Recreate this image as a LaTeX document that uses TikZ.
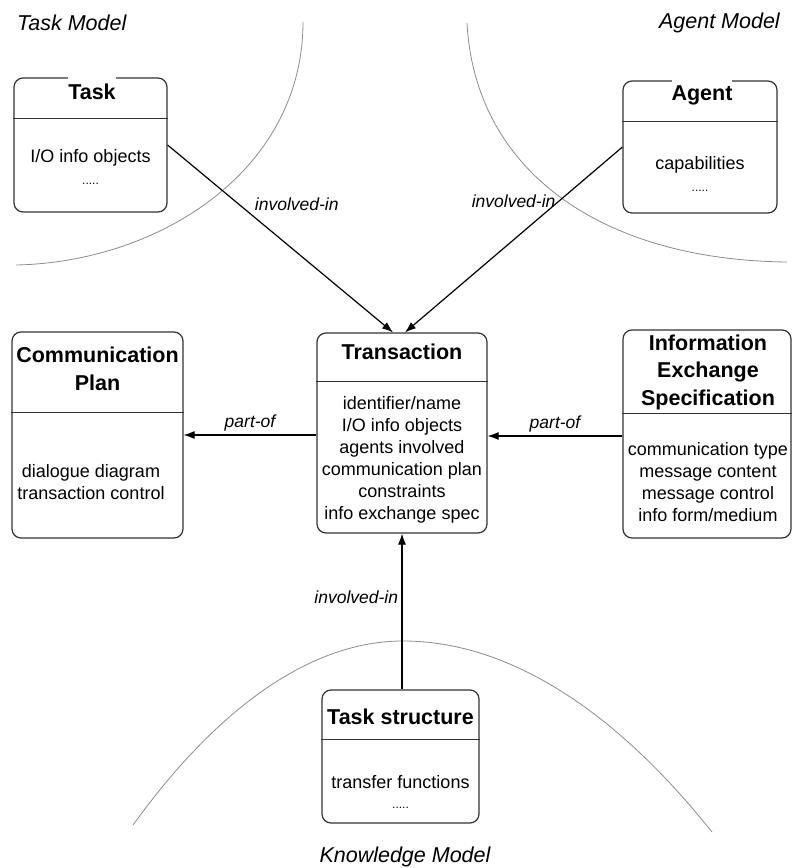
\documentclass[tikz,border=0pt]{standalone}
\usepackage{fontspec}
\setmainfont{Liberation Sans}
\usetikzlibrary{arrows.meta}

\begin{document}
\begin{tikzpicture}[x=1pt,y=-1pt]
	\tikzset{umlbox/.style = {shape=rectangle,draw=black!80,line width=1.2pt,rounded corners=9pt}}
	\tikzset{headline/.style = {draw=black!80,line width=1.2pt}}
	\tikzset{title/.style = {font=\fontsize{21.5}{27.5}\selectfont\bfseries,align=center,inner sep=0pt}}
	\tikzset{gaptitle/.style = {title,fill=white,minimum height=32pt}}
	\tikzset{body/.style = {font=\fontsize{18}{22}\selectfont,align=center,inner sep=0pt}}
	\tikzset{dots/.style = {font=\fontsize{12}{14}\selectfont,inner sep=0pt}}
	\tikzset{model/.style = {font=\fontsize{21.5}{26}\selectfont\itshape,inner sep=0pt}}
	\tikzset{lbl/.style = {font=\fontsize{17.5}{21}\selectfont\itshape}}
	\tikzset{edge/.style = {->,> = {Latex[length=11pt,width=8pt]},line width=1.2pt}}
	\tikzset{border/.style = {draw=black!45,line width=0.8pt}}
	\useasboundingbox (0,0) rectangle (792,868);

	% model borders
	\draw[border] (303,22) .. controls (303,170) and (160,262) .. (16,265);
	\draw[border] (467,23) .. controls (475,170) and (600,260) .. (787,262);
	\draw[border] (133,825) parabola bend (403,641) (712,832);
	\node[model,anchor=west] (taskmodel) at (17,23) {Task Model};
	\node[model,anchor=east] (agentmodel) at (780,23) {Agent Model};
	\node[model] (knowmodel) at (405,857) {Knowledge Model};

	% boxes
	\node[umlbox,minimum width=153pt,minimum height=134pt] (task) at (90.5,145) {};
	\draw[headline] ([yshift=-41pt]task.north west) -- ([yshift=-41pt]task.north east);
	\node[gaptitle] (tasktitle) at (92,92) {Task};
	\node[body] (taskbody) at (90.5,158) {I/O info objects};
	\node[dots] (taskdots) at (90.5,184) {.....};

	\node[umlbox,minimum width=154pt,minimum height=132pt] (agent) at (700,147) {};
	\draw[headline] ([yshift=-41pt]agent.north west) -- ([yshift=-41pt]agent.north east);
	\node[gaptitle] (agenttitle) at (702,95) {Agent};
	\node[body] (agentbody) at (700,165) {capabilities};
	\node[dots] (agentdots) at (700,191) {.....};

	\node[umlbox,minimum width=170pt,minimum height=200pt] (trans) at (402,433) {};
	\draw[headline] ([yshift=-49pt]trans.north west) -- ([yshift=-49pt]trans.north east);
	\node[title] (transtitle) at (402,352) {Transaction};
	\node[body] (transbody) at (402,460) {identifier/name\\I/O info objects\\agents involved\\communication plan\\constraints\\info exchange spec};

	\node[umlbox,minimum width=171pt,minimum height=206pt] (plan) at (97.5,435) {};
	\draw[headline] ([yshift=-81pt]plan.north west) -- ([yshift=-81pt]plan.north east);
	\node[title] (plantitle) at (97.5,369) {Communication\\Plan};
	\node[body] (planbody) at (91,482) {dialogue diagram\\transaction control};

	\node[umlbox,minimum width=168pt,minimum height=208pt] (info) at (707,434) {};
	\draw[headline] ([yshift=-84pt]info.north west) -- ([yshift=-84pt]info.north east);
	\node[title] (infotitle) at (708,372) {Information\\Exchange\\Specification};
	\node[body] (infobody) at (708,482) {communication type\\message content\\message control\\info form/medium};

	\node[umlbox,minimum width=157pt,minimum height=133pt] (struct) at (400.5,756.5) {};
	\draw[headline] ([yshift=-50pt]struct.north west) -- ([yshift=-50pt]struct.north east);
	\node[title] (structtitle) at (400.5,717) {Task structure};
	\node[body] (structbody) at (400.5,782) {transfer functions};
	\node[dots] (structdots) at (400.5,808) {.....};

	% relations
	\draw[edge] (task.east) -- ([xshift=-9pt]trans.north) node[lbl,pos=0.37,anchor=south west] (taskrel) {involved-in};
	\draw[edge] (agent.west) -- ([xshift=3pt]trans.north) node[lbl,pos=0.29,left] (agentrel) {involved-in};
	\draw[edge] (trans.south |- struct.north) -- (trans.south) node[lbl,pos=0.59,left] (structrel) {involved-in};
	\draw[edge] ([yshift=-2pt]trans.west) -- ([yshift=-2pt]trans.west -| plan.east) node[lbl,midway,above] (planrel) {part-of};
	\draw[edge] ([yshift=-2pt]info.west) -- ([yshift=-2pt]info.west -| trans.east) node[lbl,midway,above] (inforel) {part-of};
\end{tikzpicture}
\end{document}
